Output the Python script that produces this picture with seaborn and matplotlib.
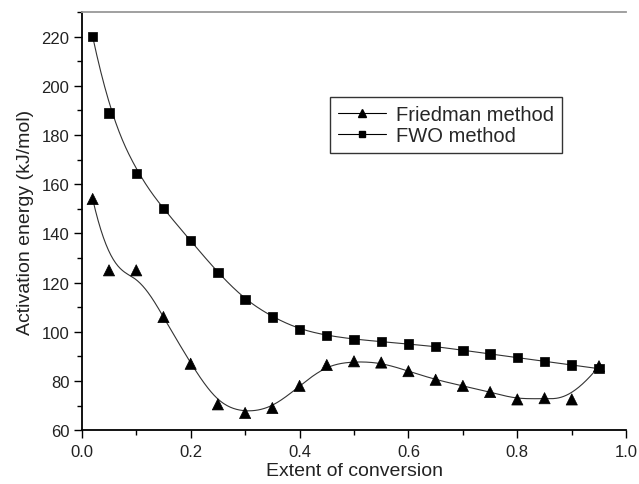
import numpy as np
import pandas as pd
import matplotlib
matplotlib.use("Agg")
import matplotlib.pyplot as plt
from matplotlib.lines import Line2D
from matplotlib.ticker import MultipleLocator, FormatStrFormatter
import seaborn as sns

conversion = [0.02, 0.05, 0.10, 0.15, 0.20, 0.25, 0.30, 0.35, 0.40, 0.45,
              0.50, 0.55, 0.60, 0.65, 0.70, 0.75, 0.80, 0.85, 0.90, 0.95]
friedman = [154, 125, 125, 106, 87, 70.5, 67, 69, 78, 86.5,
            88, 87.5, 84, 80.5, 78, 75.5, 72.5, 73, 72.5, 86]
fwo = [220, 189, 164.5, 150, 137, 124, 113, 106, 101, 98.5,
       97, 96, 95, 94, 92.5, 91, 89.5, 88, 86.5, 85]


def bspline_curve(x, y, num=600, k=3):
    """Clamped cubic B-spline using the data points as control points."""
    P = np.column_stack([x, y]).astype(float)
    n = len(P)
    inner = np.arange(1, n - k)
    knots = np.concatenate([np.zeros(k + 1), inner, np.full(k + 1, n - k)]).astype(float)
    t = np.linspace(0, n - k, num)
    t[-1] -= 1e-9
    # Cox-de Boor recursion
    B = np.zeros((num, len(knots) - 1))
    for i in range(len(knots) - 1):
        B[:, i] = (knots[i] <= t) & (t < knots[i + 1])
    for d in range(1, k + 1):
        Bn = np.zeros((num, len(knots) - 1 - d))
        for i in range(len(knots) - 1 - d):
            a = knots[i + d] - knots[i]
            b = knots[i + d + 1] - knots[i + 1]
            term = np.zeros(num)
            if a > 0:
                term += (t - knots[i]) / a * B[:, i]
            if b > 0:
                term += (knots[i + d + 1] - t) / b * B[:, i + 1]
            Bn[:, i] = term
        B = Bn
    C = B @ P
    return C[:, 0], C[:, 1]


sns.set_theme(style="ticks")
plt.rcParams["font.family"] = ["Liberation Sans", "DejaVu Sans"]

fig = plt.figure(figsize=(6.39, 4.85), dpi=100)
ax = fig.add_axes([0.128, 0.111, 0.852, 0.862])

fx, fy = bspline_curve(conversion, friedman)
wx, wy = bspline_curve(conversion, fwo)
curves = pd.DataFrame({
    "x": np.concatenate([fx, wx]),
    "y": np.concatenate([fy, wy]),
    "method": ["Friedman method"] * len(fx) + ["FWO method"] * len(wx),
})
points = pd.DataFrame({
    "x": conversion * 2,
    "y": friedman + fwo,
    "method": ["Friedman method"] * len(conversion) + ["FWO method"] * len(conversion),
})

sns.lineplot(data=curves, x="x", y="y", units="method", estimator=None,
             color="#333333", linewidth=0.8, ax=ax, legend=False, sort=False)
sns.scatterplot(data=points, x="x", y="y", style="method", size="method",
                markers={"Friedman method": "^", "FWO method": "s"},
                sizes={"Friedman method": 65, "FWO method": 45},
                color="black", edgecolor="black", linewidth=0.5,
                ax=ax, legend=False, zorder=3)

ax.set_xlim(0.0, 1.0)
ax.set_ylim(60, 230)
ax.xaxis.set_major_locator(MultipleLocator(0.2))
ax.xaxis.set_minor_locator(MultipleLocator(0.1))
ax.yaxis.set_major_locator(MultipleLocator(20))
ax.yaxis.set_minor_locator(MultipleLocator(10))
ax.xaxis.set_major_formatter(FormatStrFormatter("%.1f"))
ax.tick_params(axis="both", which="major", direction="out", length=6,
               width=1, labelsize=12, color="black", labelcolor="#222222")
ax.tick_params(axis="x", which="major", pad=4)
ax.tick_params(axis="y", which="major", pad=3)
ax.tick_params(axis="both", which="minor", direction="out", length=3.5,
               width=1, color="black")

ax.spines["right"].set_visible(False)
ax.spines["top"].set_color("#999999")
ax.spines["top"].set_linewidth(1.3)
for side in ("left", "bottom"):
    ax.spines[side].set_color("black")
    ax.spines[side].set_linewidth(1.3)

ax.set_xlabel("Extent of conversion", fontsize=14, color="#222222", labelpad=2)
ax.set_ylabel("Activation energy (kJ/mol)", fontsize=14, color="#222222", labelpad=5)

handles = [
    Line2D([], [], color="black", linewidth=0.8, marker="^", markersize=5.5),
    Line2D([], [], color="black", linewidth=0.8, marker="s", markersize=4.5),
]
leg = ax.legend(handles, ["Friedman method", "FWO method"], loc="upper left",
                bbox_to_anchor=(0.456, 0.797), borderaxespad=0, frameon=True,
                fancybox=False, edgecolor="black", fontsize=14.5,
                handlelength=2.4, handletextpad=0.45, borderpad=0.4,
                labelspacing=0.1, numpoints=1)
leg.get_frame().set_linewidth(1.0)

fig.savefig("out.png", dpi=100)
